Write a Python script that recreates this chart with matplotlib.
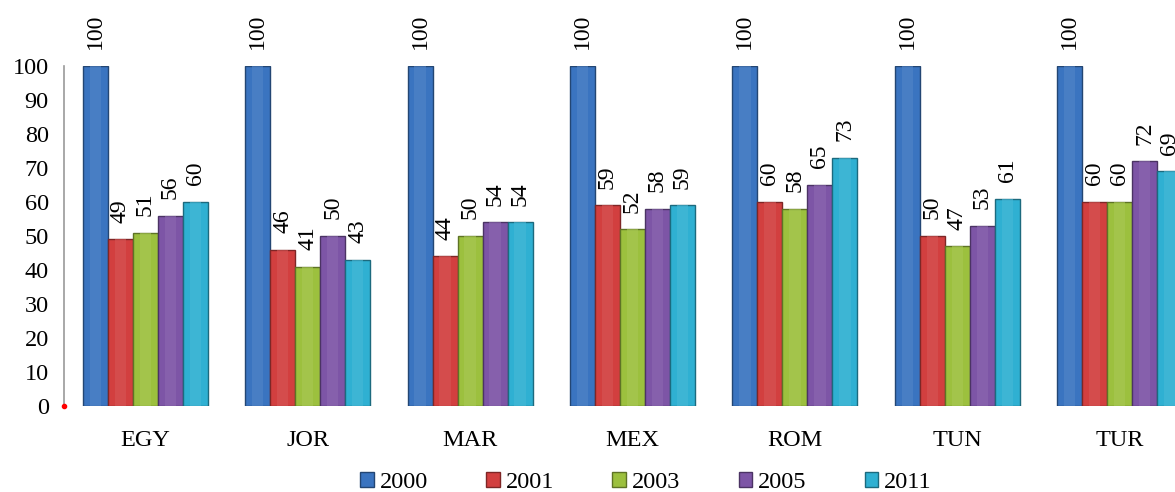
import numpy as np
import matplotlib
matplotlib.use('Agg')
import matplotlib.pyplot as plt
from matplotlib.colors import to_rgb

# dados do grafico
paises = ['EGY', 'JOR', 'MAR', 'MEX', 'ROM', 'TUN', 'TUR']
anos = ['2000', '2001', '2003', '2005', '2011']
valores = {
    '2000': [100, 100, 100, 100, 100, 100, 100],
    '2001': [49, 46, 44, 59, 60, 50, 60],
    '2003': [51, 41, 50, 52, 58, 47, 60],
    '2005': [56, 50, 54, 58, 65, 53, 72],
    '2011': [60, 43, 54, 59, 73, 61, 69],
}
cores = ['#3a74c0', '#d23f3f', '#9cc03e', '#7d55a6', '#2fb0d2']

plt.rcParams['font.family'] = ['Liberation Serif', 'DejaVu Serif']

def escurecer(c, f=0.6):
    r, g, b = to_rgb(c)
    return (r * f, g * f, b * f)

def clarear(c, f=0.35):
    r, g, b = to_rgb(c)
    return (r + (1 - r) * f, g + (1 - g) * f, b + (1 - b) * f)

fig = plt.figure(figsize=(11.75, 4.92), dpi=100)
ax = fig.add_axes([64 / 1175, 86 / 492, 1137 / 1175, 340 / 492])

x = np.arange(len(paises))
largura = 0.154
n = len(anos)
for i, (ano, cor) in enumerate(zip(anos, cores)):
    pos = x + (i - (n - 1) / 2) * largura
    vals = valores[ano]
    ax.bar(pos, vals, width=largura, color=cor, edgecolor=escurecer(cor),
           linewidth=1.0, label=ano, zorder=2)
    # brilho central para imitar o efeito 3D
    ax.bar(pos, vals, width=largura * 0.45, color=clarear(cor, 0.12),
           linewidth=0, zorder=3, alpha=0.6)
    for xp, v in zip(pos, vals):
        ax.annotate(str(v), (xp, v), xytext=(0, 12), textcoords='offset points',
                    rotation=90, ha='center', va='bottom', fontsize=17,
                    annotation_clip=False)

ax.set_xlim(-0.5, len(paises) - 0.5)
ax.set_ylim(0, 100)
ax.set_yticks(np.arange(0, 101, 10))
ax.set_xticks(x)
ax.set_xticklabels(paises)
ax.tick_params(axis='y', length=0, pad=11, labelsize=17.5)
ax.tick_params(axis='x', length=0, pad=17, labelsize=17.5)

for lado in ['top', 'right', 'bottom']:
    ax.spines[lado].set_visible(False)
ax.spines['left'].set_color('#9a9a9a')
ax.spines['left'].set_linewidth(1.2)
ax.plot([-0.5], [0], 'o', color='red', markersize=3, clip_on=False, zorder=5)

leg = ax.legend(loc='center', bbox_to_anchor=(0.512, -0.226), ncol=5,
                frameon=False, fontsize=17.5, handlelength=0.55, handleheight=0.55,
                handletextpad=0.25, columnspacing=2.4)

fig.savefig('out.png', dpi=100)
